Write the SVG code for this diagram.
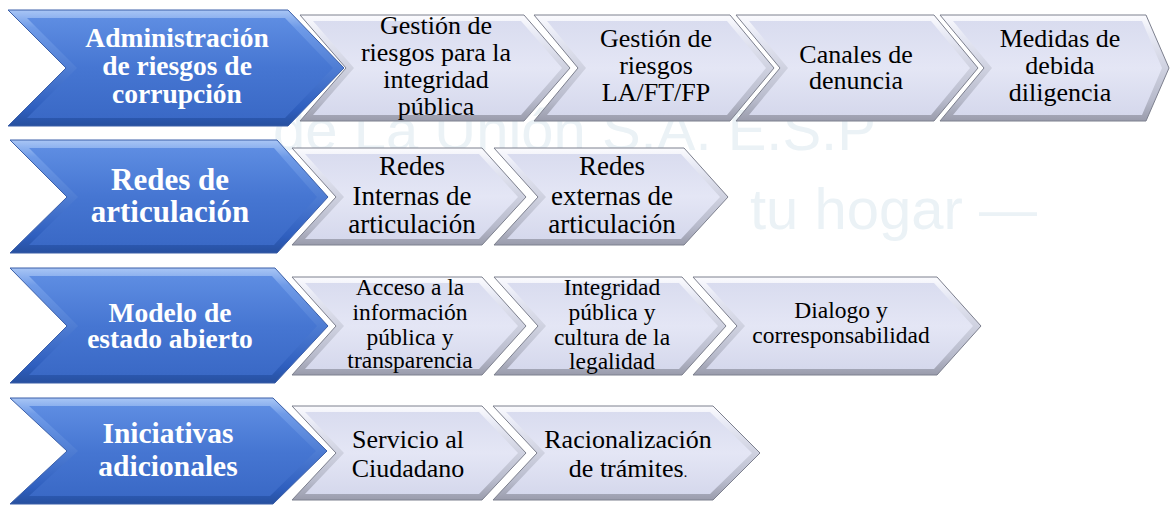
<svg xmlns="http://www.w3.org/2000/svg" width="1170" height="506" viewBox="0 0 1170 506">
<defs>
<linearGradient id="bOut" x1="0" y1="0" x2="0" y2="1">
<stop offset="0" stop-color="#a9c6f5"/><stop offset="0.15" stop-color="#6f9be8"/><stop offset="0.85" stop-color="#2f5fbf"/><stop offset="1" stop-color="#27509f"/>
</linearGradient>
<linearGradient id="bFace" x1="0" y1="0" x2="0" y2="1">
<stop offset="0" stop-color="#5e8de2"/><stop offset="0.5" stop-color="#4676d2"/><stop offset="1" stop-color="#3a69c6"/>
</linearGradient>
<linearGradient id="gOut" x1="0" y1="0" x2="0" y2="1">
<stop offset="0" stop-color="#fbfbfe"/><stop offset="0.2" stop-color="#e6e8f4"/><stop offset="0.8" stop-color="#b8bbcc"/><stop offset="1" stop-color="#9a9cac"/>
</linearGradient>
<linearGradient id="gFace" x1="0" y1="0" x2="0" y2="1">
<stop offset="0" stop-color="#d9dcef"/><stop offset="0.5" stop-color="#e4e6f5"/><stop offset="1" stop-color="#d5d8ec"/>
</linearGradient>
</defs>
<style>
.bo{fill:url(#bOut);stroke:#3b5fa8;stroke-width:1}
.bf{fill:url(#bFace)}
.go{fill:url(#gOut);stroke:#7d808e;stroke-width:1}
.gf{fill:url(#gFace)}
.bt{font-family:"Liberation Serif","Times New Roman",serif;font-weight:bold;fill:#ffffff;text-anchor:middle}
.gt{font-family:"Liberation Serif","Times New Roman",serif;fill:#000000;text-anchor:middle}
.wm{font-family:"Liberation Sans",Arial,sans-serif;fill:#ebf2f6;font-size:58px}
</style>
<rect width="1170" height="506" fill="#ffffff"/>
<g id="watermark">
<text class="wm" x="273" y="150">de La Unión S.A. E.S.P</text>
<text class="wm" x="750" y="229">tu hogar —</text>
</g>
<g id="connectors"></g>

<g id="row1-main">
<polygon class="bo" points="8,10 288,10 344,68 288,126 8,126 66,68"/>
<polygon class="bf" points="27,18 285,18 333,68 285,118 27,118 77,68"/>
<text class="bt" font-size="27.5" x="177" y="47">Administración</text>
<text class="bt" font-size="27.5" x="177" y="75">de riesgos de</text>
<text class="bt" font-size="27.5" x="177" y="103">corrupción</text>
</g>
<g id="row1-item1">
<polygon class="go" points="300,15 524,15 570,68 524,121 300,121 346,68"/>
<polygon class="gf" points="313,21 521,21 562,68 521,115 313,115 354,68"/>
<text class="gt" font-size="26" x="436" y="34">Gestión de</text>
<text class="gt" font-size="26" x="436" y="61">riesgos para la</text>
<text class="gt" font-size="26" x="436" y="88">integridad</text>
<text class="gt" font-size="26" x="436" y="115">pública</text>
</g>
<g id="row1-item2">
<polygon class="go" points="534,15 730,15 774,68 730,121 534,121 578,68"/>
<polygon class="gf" points="547,21 727,21 766,68 727,115 547,115 586,68"/>
<text class="gt" font-size="26" x="656" y="47">Gestión de</text>
<text class="gt" font-size="26" x="656" y="74">riesgos</text>
<text class="gt" font-size="26" x="656" y="101">LA/FT/FP</text>
</g>
<g id="row1-item3">
<polygon class="go" points="736,15 934,15 978,68 934,121 736,121 780,68"/>
<polygon class="gf" points="749,21 931,21 970,68 931,115 749,115 788,68"/>
<text class="gt" font-size="26" x="856" y="63">Canales de</text>
<text class="gt" font-size="26" x="856" y="89">denuncia</text>
</g>
<g id="row1-item4">
<polygon class="go" points="940,15 1146,15 1169,68 1146,121 940,121 984,68"/>
<polygon class="gf" points="953,21 1142,21 1162,68 1142,115 953,115 992,68"/>
<text class="gt" font-size="26" x="1060" y="47">Medidas de</text>
<text class="gt" font-size="26" x="1060" y="74">debida</text>
<text class="gt" font-size="26" x="1060" y="101">diligencia</text>
</g>

<g id="row2-main">
<polygon class="bo" points="10,140 277,140 328,197 277,253 10,253 67,197"/>
<polygon class="bf" points="29,148 274,148 317,197 274,245 29,245 78,197"/>
<text class="bt" font-size="31" x="170" y="190">Redes de</text>
<text class="bt" font-size="31" x="170" y="222">articulación</text>
</g>
<g id="row2-item1">
<polygon class="go" points="292,148 482,148 526,197 482,245 292,245 336,197"/>
<polygon class="gf" points="305,154 479,154 518,197 479,239 305,239 344,197"/>
<text class="gt" font-size="27" x="412" y="175">Redes</text>
<text class="gt" font-size="27" x="412" y="205">Internas de</text>
<text class="gt" font-size="27" x="412" y="233">articulación</text>
</g>
<g id="row2-item2">
<polygon class="go" points="494,148 684,148 728,197 684,245 494,245 538,197"/>
<polygon class="gf" points="507,154 681,154 720,197 681,239 507,239 546,197"/>
<text class="gt" font-size="27" x="612" y="175">Redes</text>
<text class="gt" font-size="27" x="612" y="205">externas de</text>
<text class="gt" font-size="27" x="612" y="233">articulación</text>
</g>

<g id="row3-main">
<polygon class="bo" points="10,268 275,268 328,326 275,383 10,383 67,326"/>
<polygon class="bf" points="29,276 272,276 317,326 272,375 29,375 78,326"/>
<text class="bt" font-size="27.5" x="170" y="322">Modelo de</text>
<text class="bt" font-size="27.5" x="170" y="348">estado abierto</text>
</g>
<g id="row3-item1">
<polygon class="go" points="292,277 482,277 526,326 482,375 292,375 336,326"/>
<polygon class="gf" points="305,283 479,283 518,326 479,369 305,369 344,326"/>
<text class="gt" font-size="23.5" x="410" y="295">Acceso a la</text>
<text class="gt" font-size="23.5" x="410" y="320">información</text>
<text class="gt" font-size="23.5" x="410" y="345">pública y</text>
<text class="gt" font-size="23.5" x="410" y="368">transparencia</text>
</g>
<g id="row3-item2">
<polygon class="go" points="494,277 682,277 726,326 682,375 494,375 538,326"/>
<polygon class="gf" points="507,283 679,283 718,326 679,369 507,369 546,326"/>
<text class="gt" font-size="23.5" x="612" y="295">Integridad</text>
<text class="gt" font-size="23.5" x="612" y="320">pública y</text>
<text class="gt" font-size="23.5" x="612" y="345">cultura de la</text>
<text class="gt" font-size="23.5" x="612" y="369">legalidad</text>
</g>
<g id="row3-item3">
<polygon class="go" points="693,277 937,277 981,326 937,375 693,375 737,326"/>
<polygon class="gf" points="706,283 934,283 973,326 934,369 706,369 745,326"/>
<text class="gt" font-size="23.5" x="841" y="318">Dialogo y</text>
<text class="gt" font-size="23.5" x="841" y="343">corresponsabilidad</text>
</g>

<g id="row4-main">
<polygon class="bo" points="10,398 273,398 327,451 273,504 10,504 67,451"/>
<polygon class="bf" points="29,406 270,406 316,451 270,496 29,496 78,451"/>
<text class="bt" font-size="29.5" x="168" y="443">Iniciativas</text>
<text class="bt" font-size="29.5" x="168" y="476">adicionales</text>
</g>
<g id="row4-item1">
<polygon class="go" points="292,406 482,406 526,453 482,500 292,500 336,453"/>
<polygon class="gf" points="305,412 479,412 518,453 479,494 305,494 344,453"/>
<text class="gt" font-size="26" x="408" y="448">Servicio al</text>
<text class="gt" font-size="26" x="408" y="477">Ciudadano</text>
</g>
<g id="row4-item2">
<polygon class="go" points="493,406 713,406 760,453 713,500 493,500 537,453"/>
<polygon class="gf" points="506,412 710,412 752,453 710,494 506,494 545,453"/>
<text class="gt" font-size="26" x="628" y="448">Racionalización</text>
<text class="gt" font-size="26" x="628" y="477">de trámites<tspan font-size="14">.</tspan></text>
</g>
</svg>
